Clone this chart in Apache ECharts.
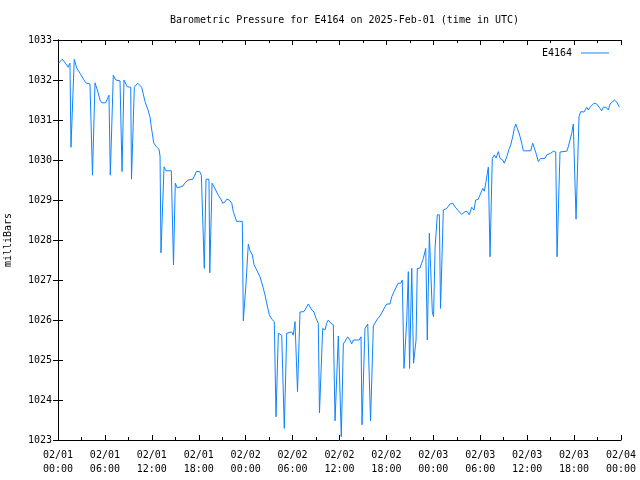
<!DOCTYPE html>
<html>
<head>
<meta charset="utf-8">
<script src="https://cdn.jsdelivr.net/npm/echarts@6/dist/echarts.min.js"></script>
<style>html,body{margin:0;padding:0;background:#fff}#c{width:640px;height:480px}</style>
</head>
<body>
<div id="c"></div>
<script>
// hours since 2025-02-01 00:00 UTC
const hours = [0.06,0.55,1.02,1.28,1.53,1.66,2.08,2.39,2.81,3.20,3.54,4.09,4.41,4.73,5.03,5.37,5.59,6.10,6.52,6.69,
7.07,7.38,7.93,8.06,8.19,8.44,8.86,9.30,9.40,9.76,10.19,10.70,11.13,11.51,11.77,11.93,12.24,12.57,12.92,13.05,
13.17,13.56,13.81,14.49,14.77,15.00,15.26,15.44,15.99,16.20,16.63,17.27,17.69,18.12,18.33,18.54,18.71,18.93,19.31,19.41,
19.70,20.04,20.46,20.88,21.06,21.36,21.58,21.91,22.22,22.42,22.85,23.15,23.40,23.57,23.70,24.04,24.34,24.56,24.85,25.07,
25.41,25.83,26.18,26.47,26.69,27.02,27.33,27.66,27.88,28.18,28.61,28.94,29.25,29.89,30.09,30.31,30.44,30.63,30.95,31.46,
32.01,32.45,32.74,33.00,33.29,33.44,33.85,34.15,34.36,34.57,34.88,35.21,35.43,35.85,36.07,36.23,36.49,36.71,37.05,37.34,
37.56,37.77,38.53,38.75,38.88,39.26,39.61,39.78,39.97,40.33,40.76,41.18,41.60,41.82,42.04,42.46,42.68,42.97,43.32,43.52,
43.83,44.03,44.25,44.60,44.80,44.96,45.24,45.47,45.79,45.95,46.30,46.51,46.72,47.03,47.23,47.49,47.70,47.87,48.03,48.22,
48.51,48.77,48.92,49.28,49.71,50.13,50.48,50.77,51.20,51.63,51.76,52.05,52.35,52.60,52.91,53.20,53.42,53.75,54.06,54.32,
54.52,54.74,54.91,55.03,55.25,55.54,55.80,56.02,56.31,56.53,56.87,57.08,57.39,57.68,57.90,58.15,58.36,58.54,58.74,59.00,
59.30,59.51,60.46,60.71,60.88,61.13,61.43,61.73,62.28,62.50,62.71,63.01,63.35,63.65,63.82,64.20,65.06,65.26,65.48,65.70,
65.90,66.25,66.63,66.85,67.06,67.27,67.62,67.82,68.04,68.55,68.90,69.32,69.53,69.74,70.09,70.38,70.60,70.85,71.15,71.46,71.78];

const pressure = [1032.42,1032.52,1032.40,1032.32,1032.42,1030.32,1032.52,1032.30,1032.17,1032.04,1031.93,1031.90,1029.62,1031.93,1031.75,1031.50,1031.43,1031.43,1031.62,1029.62,
1032.12,1032.00,1031.98,1032.00,1029.71,1032.00,1031.83,1031.82,1029.52,1031.82,1031.92,1031.82,1031.46,1031.25,1031.07,1030.83,1030.43,1030.33,1030.27,1030.10,
1027.68,1029.83,1029.73,1029.73,1027.38,1029.42,1029.30,1029.35,1029.35,1029.42,1029.50,1029.52,1029.71,1029.71,1029.62,1029.62,1027.29,1029.52,1029.52,1027.18,
1029.42,1029.30,1029.13,1029.00,1028.92,1028.95,1029.02,1029.00,1028.92,1028.71,1028.46,1028.47,1028.50,1028.46,1025.98,1026.90,1027.90,1027.73,1027.63,1027.38,
1027.25,1027.08,1026.85,1026.63,1026.42,1026.13,1026.02,1025.96,1023.58,1025.67,1025.62,1023.29,1025.67,1025.70,1025.62,1025.96,1025.98,1024.21,1026.20,1026.21,
1026.40,1026.25,1026.20,1026.04,1025.92,1023.68,1025.79,1025.75,1025.92,1026.00,1025.92,1025.88,1023.48,1025.60,1025.60,1023.08,1025.40,1025.42,1025.58,1025.50,
1025.40,1025.50,1025.50,1025.58,1023.38,1025.79,1025.90,1025.85,1023.48,1025.85,1026.00,1026.10,1026.25,1026.33,1026.40,1026.40,1026.58,1026.71,1026.85,1026.92,
1026.92,1027.00,1024.79,1026.00,1027.21,1024.79,1027.29,1024.92,1025.50,1027.29,1027.30,1027.42,1027.54,1027.79,1025.50,1028.17,1028.20,1026.20,1026.08,1027.80,
1028.63,1028.63,1026.29,1028.75,1028.79,1028.90,1028.92,1028.83,1028.73,1028.64,1028.63,1028.71,1028.71,1028.63,1028.82,1028.75,1029.00,1029.02,1029.17,1029.29,
1029.22,1029.46,1029.67,1029.82,1027.58,1030.04,1030.13,1030.05,1030.21,1030.04,1030.00,1029.92,1030.08,1030.27,1030.38,1030.58,1030.79,1030.90,1030.85,1030.65,
1030.42,1030.23,1030.23,1030.42,1030.38,1030.17,1029.96,1030.04,1030.04,1030.13,1030.10,1030.17,1030.22,1030.20,1027.58,1030.20,1030.22,1030.33,1030.50,1030.67,
1030.90,1028.52,1031.08,1031.21,1031.17,1031.20,1031.32,1031.25,1031.32,1031.42,1031.40,1031.29,1031.23,1031.32,1031.32,1031.25,1031.40,1031.40,1031.50,1031.45,1031.33];

const xTickLabels = ["02/01\n00:00","02/01\n06:00","02/01\n12:00","02/01\n18:00","02/02\n00:00","02/02\n06:00","02/02\n12:00",
  "02/02\n18:00","02/03\n00:00","02/03\n06:00","02/03\n12:00","02/03\n18:00","02/04\n00:00"];
const seriesName = "E4164";
const titleText = "Barometric Pressure for E4164 on 2025-Feb-01 (time in UTC)";
const yName = "milliBars";

const FONT = "DejaVu Sans Mono";
const chart = echarts.init(document.getElementById('c'), null, {renderer: 'canvas'});
const axisLine = {show: true, lineStyle: {color: '#000', width: 1}};
const data = hours.map((h, i) => [h, pressure[i]]);

chart.setOption({
  animation: false,
  backgroundColor: '#fff',
  textStyle: {fontFamily: FONT},
  title: {
    text: titleText, left: 339.5, textAlign: 'center', top: 10,
    textStyle: {fontFamily: FONT, fontSize: 10, fontWeight: 'normal', color: '#000'}
  },
  legend: {
    data: [{name: seriesName, icon: 'rect'}],
    right: 26, top: 43, align: 'right', itemWidth: 28, itemHeight: 1, itemGap: 0,
    textStyle: {fontFamily: FONT, fontSize: 10, color: '#000', padding: [0, 4, 0, 0]}
  },
  grid: {left: 58, right: 19, top: 40, bottom: 40, containLabel: false, outerBoundsMode: 'none'},
  xAxis: [{
    type: 'value', min: 0, max: 72, interval: 6, position: 'bottom',
    axisLine: axisLine,
    axisTick: {show: true, inside: true, length: 5, lineStyle: {color: '#000'}},
    minorTick: {show: true, splitNumber: 2, length: 3, lineStyle: {color: '#000'}},
    splitLine: {show: false},
    axisLabel: {
      margin: 8, fontFamily: FONT, fontSize: 10, color: '#000', lineHeight: 14,
      formatter: v => xTickLabels[Math.round(v / 6)] || ''
    }
  }, {
    type: 'value', min: 0, max: 72, interval: 6, position: 'top',
    axisLine: axisLine,
    axisTick: {show: true, inside: true, length: 5, lineStyle: {color: '#000'}},
    minorTick: {show: true, splitNumber: 2, length: 3, lineStyle: {color: '#000'}},
    splitLine: {show: false}, axisLabel: {show: false}
  }],
  yAxis: [{
    type: 'value', min: 1023, max: 1033, interval: 1, position: 'left',
    name: yName, nameLocation: 'middle', nameGap: 45, nameRotate: 90,
    nameTextStyle: {fontFamily: FONT, fontSize: 10, color: '#000'},
    axisLine: axisLine,
    axisTick: {show: true, inside: true, length: 5, lineStyle: {color: '#000'}},
    splitLine: {show: false},
    axisLabel: {margin: 6, fontFamily: FONT, fontSize: 10, color: '#000', formatter: v => String(v)}
  }, {
    type: 'value', min: 1023, max: 1033, interval: 1, position: 'right',
    axisLine: axisLine,
    axisTick: {show: true, inside: true, length: 5, lineStyle: {color: '#000'}},
    splitLine: {show: false}, axisLabel: {show: false}
  }],
  series: [{
    name: seriesName, type: 'line', data: data,
    xAxisIndex: 0, yAxisIndex: 0,
    showSymbol: false, symbol: 'none', sampling: null,
    lineStyle: {color: '#1084ff', width: 1},
    itemStyle: {color: '#1084ff'}
  }]
});
</script>
</body>
</html>
